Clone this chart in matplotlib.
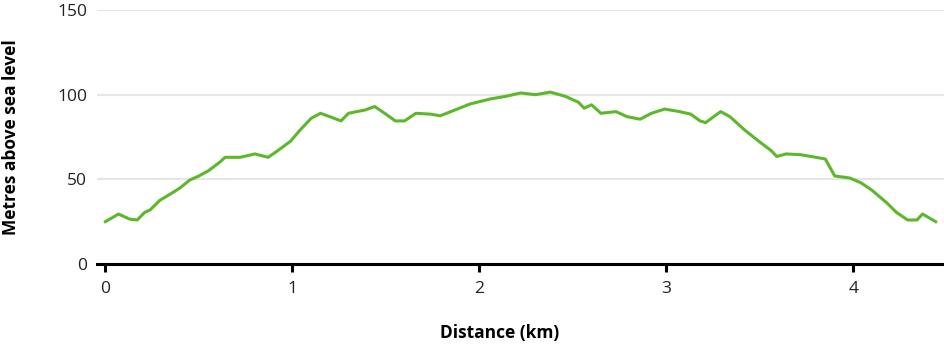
import matplotlib
matplotlib.use("Agg")
from matplotlib import pyplot as plt

plt.rcParams['font.family'] = ['Open Sans', 'DejaVu Sans']

# elevation profile (km, metres)
distance = [0.00, 0.07, 0.13, 0.17, 0.21, 0.24, 0.29, 0.35, 0.40, 0.45, 0.50,
            0.55, 0.61, 0.64, 0.72, 0.80, 0.87, 0.91, 0.99, 1.04, 1.10, 1.15,
            1.20, 1.26, 1.30, 1.39, 1.44, 1.50, 1.55, 1.60, 1.66, 1.74, 1.79,
            1.87, 1.95, 2.06, 2.14, 2.22, 2.30, 2.38, 2.46, 2.53, 2.56, 2.60,
            2.65, 2.73, 2.79, 2.86, 2.92, 2.99, 3.07, 3.13, 3.18, 3.21, 3.29,
            3.34, 3.42, 3.50, 3.56, 3.59, 3.64, 3.72, 3.80, 3.85, 3.90, 3.98,
            4.04, 4.10, 4.18, 4.23, 4.29, 4.34, 4.37, 4.44]
elevation = [25, 29.5, 26.5, 26, 30.5, 32, 37.5, 41.5, 45, 49.5, 52,
             55, 60, 63, 63, 65, 63, 66, 72.5, 79, 86, 89,
             87, 84.5, 89, 91, 93, 88.5, 84.5, 84.5, 89, 88.5, 87.5,
             91, 94.5, 97.5, 99, 101, 100, 101.5, 99, 95.5, 92, 94,
             89, 90, 87, 85.5, 89, 91.5, 90, 88.5, 84.5, 83.5, 90,
             87, 79, 72, 67, 63.5, 65, 64.5, 63, 62, 52, 50.8,
             48, 43.5, 36, 30.5, 26, 26, 29.5, 25]

fig = plt.figure(figsize=(9.45, 3.49), dpi=100)
ax = fig.add_axes([97 / 945, 1 - 264 / 349, 1 - 97 / 945, 254 / 349])

ax.plot(distance, elevation, color='#5cb82a', linewidth=2.2, zorder=3)

ax.set_xlim(-0.045, 4.49)
ax.set_ylim(0, 150)
ax.set_yticks([0, 50, 100, 150])
ax.set_xticks([0, 1, 2, 3, 4])

ax.grid(axis='y', color='#e6e6e6', linewidth=1.6, zorder=0)
ax.set_axisbelow(True)
for side in ['top', 'right', 'left']:
    ax.spines[side].set_visible(False)
ax.spines['bottom'].set_linewidth(2.2)
ax.spines['bottom'].set_color('black')
ax.spines['bottom'].set_zorder(4)

ax.tick_params(axis='y', length=0, pad=7, labelsize=12.5, labelcolor='#222222')
ax.tick_params(axis='x', length=6, width=2.2, pad=6, labelsize=12.5,
               labelcolor='#222222')

ax.set_ylabel("Metres above sea level", fontsize=12.5, fontweight='bold')
ax.yaxis.set_label_coords(-97 / 847 + 11 / 848, 0.5)
ax.set_xlabel("Distance (km)", fontsize=12.5, fontweight='bold')
ax.xaxis.set_label_coords((500 - 97) / 848, -(333 - 264) / 254)
ax.xaxis.label.set_va('center')
ax.yaxis.label.set_va('center')

fig.savefig("out.png", dpi=100)
